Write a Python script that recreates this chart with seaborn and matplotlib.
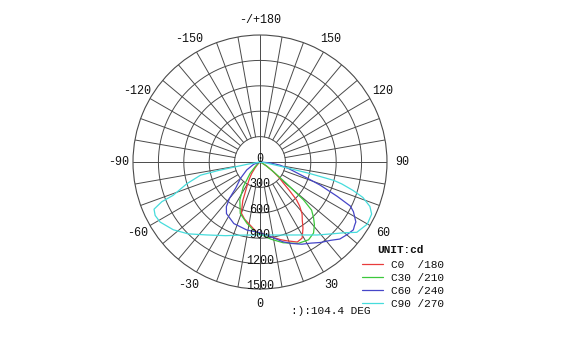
import numpy as np
import pandas as pd
import matplotlib
matplotlib.use("Agg")
import matplotlib.pyplot as plt
from matplotlib.lines import Line2D
import seaborn as sns

# C-plane curves: negative gamma = opposite half-plane (C180, C210, ...)
curve_labels = ["C0  /180", "C30 /210", "C60 /240", "C90 /270"]
curve_colors = ["#e83c3c", "#3cc83c", "#4646c8", "#46dcdc"]

c0_ang = [-90, -60, -45, -40, -36, -32, -28, -24, -20, -15, -9, -3, 0,
          8, 15, 19, 25, 29, 33, 36, 39, 42, 44, 46, 48, 51, 55, 60, 70, 90]
c0_cd = [0, 5, 40, 90, 166, 240, 331, 500, 643, 700, 753, 825, 842,
         890, 950, 985, 1043, 1027, 932, 850, 790, 700, 620, 480, 370, 290, 170, 80, 15, 0]

c30_ang = [-90, -55, -46, -41, -34, -28, -21, -12, -4, 0,
           8, 16, 25, 32, 37, 41, 44, 47, 49, 51, 54, 58, 65, 90]
c30_cd = [0, 20, 80, 178, 352, 507, 651, 741, 826, 850,
          920, 992, 1062, 1083, 1051, 980, 910, 833, 680, 403, 200, 90, 20, 0]

c60_ang = [-90, -70, -59, -50, -43, -40, -37, -33, -23, -11, 0,
           8, 16, 21, 27, 32, 37, 42, 46, 50, 54, 56, 58, 62, 64, 66, 69, 71, 73, 77, 81, 85, 90]
c60_cd = [0, 80, 183, 300, 420, 560, 660, 727, 790, 818, 835,
          890, 980, 1030, 1090, 1130, 1190, 1245, 1310, 1338, 1363, 1346, 1335, 1250, 1187,
          1000, 760, 600, 480, 350, 240, 120, 0]

c90_ang = [-90, -80, -78.5, -77.5, -73.5, -69, -68, -66, -63, -59, -52, -45, -36, -25, -15, 0,
           15, 30, 38, 45, 50, 54, 60, 65, 68, 71, 73, 75, 76, 77, 78, 80, 85, 90]
c90_cd = [0, 150, 500, 720, 900, 1100, 1250, 1370, 1390, 1377, 1300, 1200, 1065, 960, 894, 862,
          893, 995, 1094, 1200, 1300, 1413, 1465, 1455, 1400, 1285, 1150, 1000, 900, 600, 300, 100, 20, 0]

ring_values = [300, 600, 900, 1200, 1500]
angle_ticks = [0, 30, 60, 90, 120, 150, 180, -150, -120, -90, -60, -30]
angle_labels = ["0", "30", "60", "90", "120", "150", "-/+180",
                "-150", "-120", "-90", "-60", "-30"]

rows = []
for lab, ang, cd in zip(curve_labels, [c0_ang, c30_ang, c60_ang, c90_ang],
                        [c0_cd, c30_cd, c60_cd, c90_cd]):
    for a, v in zip(ang, cd):
        rows.append({"curve": lab, "theta": np.radians(a), "cd": v})
df = pd.DataFrame(rows)

sns.set_style("white")
plt.rcParams["font.family"] = ["Liberation Mono", "DejaVu Sans Mono"]

grid_c = "#4a4a4a"
text_c = "#111111"
fig = plt.figure(figsize=(5.63, 3.53), dpi=100)
ax = fig.add_axes([0.2362, 0.1813, 0.4512, 0.7195], projection="polar")
ax.set_theta_zero_location("S")
ax.set_theta_direction(1)
ax.grid(False)
ax.spines["polar"].set_color(grid_c)
ax.spines["polar"].set_linewidth(0.8)

# polar grid: rings and 10 degree spokes
circ = np.linspace(0, 2 * np.pi, 361)
for r in ring_values[:-1]:
    ax.plot(circ, np.full_like(circ, r), color=grid_c, lw=0.7, zorder=1)
for a in range(0, 360, 10):
    r0 = 0 if a % 90 == 0 else ring_values[0]
    ax.plot([np.radians(a)] * 2, [r0, ring_values[-1]], color=grid_c, lw=0.7, zorder=1)

sns.lineplot(data=df, x="theta", y="cd", hue="curve", palette=curve_colors,
             sort=False, estimator=None, lw=0.9, ax=ax, legend=False, zorder=3)

ax.set_ylim(0, 1500)
ax.set_xticks([])
ax.set_yticks([])
ax.set_xlabel("")
ax.set_ylabel("")

for a, lab in zip(angle_ticks, angle_labels):
    ax.text(np.radians(a), 1675, lab, ha="center", va="center", fontsize=8.5,
            color=text_c, clip_on=False)
for r in [0] + ring_values:
    ax.text(0, r, str(r), ha="center", va="baseline", fontsize=8.5,
            color=text_c, zorder=4)

handles = [Line2D([], [], color=c, lw=0.9) for c in curve_colors]
fig.legend(handles, curve_labels, loc="upper left",
           bbox_to_anchor=(362 / 563, 1 - 260 / 353), frameon=False,
           prop={"family": "Liberation Mono", "size": 8}, handlelength=1.9,
           handletextpad=0.7, labelspacing=0.26, borderpad=0, borderaxespad=0,
           labelcolor=text_c)
fig.text(377 / 563, 1 - 250 / 353, "UNIT:cd", fontsize=8, fontweight="bold",
         va="center", color=text_c)
fig.text(291 / 563, 1 - 311 / 353, ":):104.4 DEG", fontsize=8,
         va="center", color=text_c)

fig.savefig("out.png", dpi=100, facecolor="white")
